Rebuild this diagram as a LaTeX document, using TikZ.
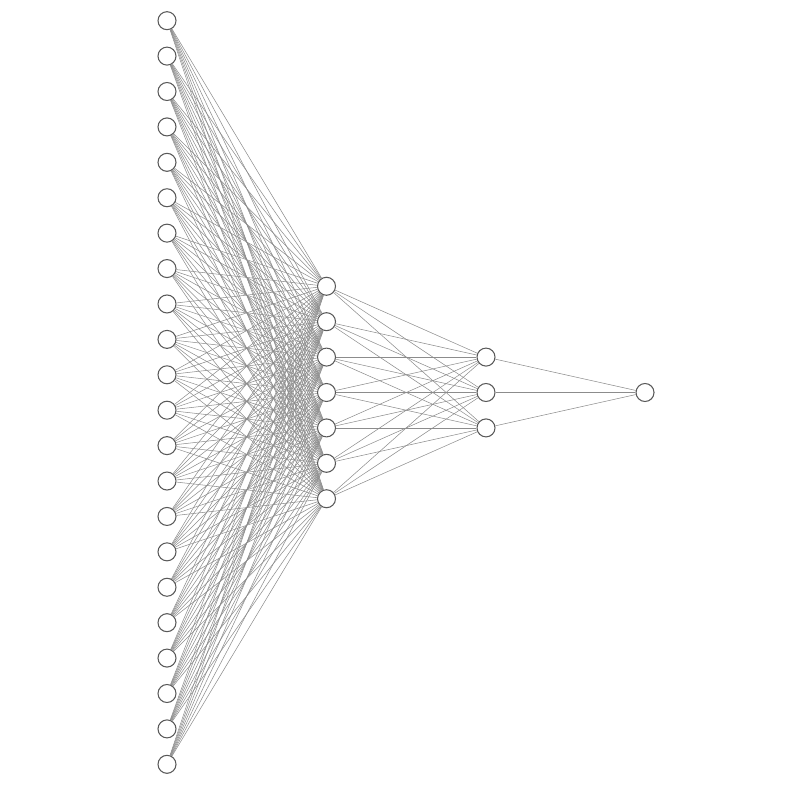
\documentclass[tikz,border=0pt]{standalone}

\begin{document}
\begin{tikzpicture}[
    neuron/.style={circle, draw=black!65, line width=0.6pt, fill=white,
                   minimum size=0.36cm, inner sep=0pt},
    link/.style={draw=black!45, line width=0.3pt}
  ]

    % Fix the page to the reference size
    \useasboundingbox (0,0) rectangle (15.86,15.84);

    % Layer spacing
    \def\dy{0.7082}
    \def\ymid{7.99}

    % Input layer (22 neurons)
    \foreach \i in {1,...,22}
        \node[neuron] (in-\i) at (3.34, {\ymid+(11.5-\i)*\dy}) {};

    % First hidden layer (7 neurons)
    \foreach \i in {1,...,7}
        \node[neuron] (h-\i) at (6.53, {\ymid+(4-\i)*\dy}) {};

    % Second hidden layer (3 neurons)
    \foreach \i in {1,...,3}
        \node[neuron] (g-\i) at (9.72, {\ymid+(2-\i)*\dy}) {};

    % Output neuron
    \node[neuron] (out) at (12.9, \ymid) {};

    % Connections between the layers
    \foreach \i in {1,...,22}
        \foreach \j in {1,...,7}
            \draw[link] (in-\i) -- (h-\j);
    \foreach \i in {1,...,7}
        \foreach \j in {1,...,3}
            \draw[link] (h-\i) -- (g-\j);
    \foreach \i in {1,...,3}
        \draw[link] (g-\i) -- (out);

\end{tikzpicture}
\end{document}
